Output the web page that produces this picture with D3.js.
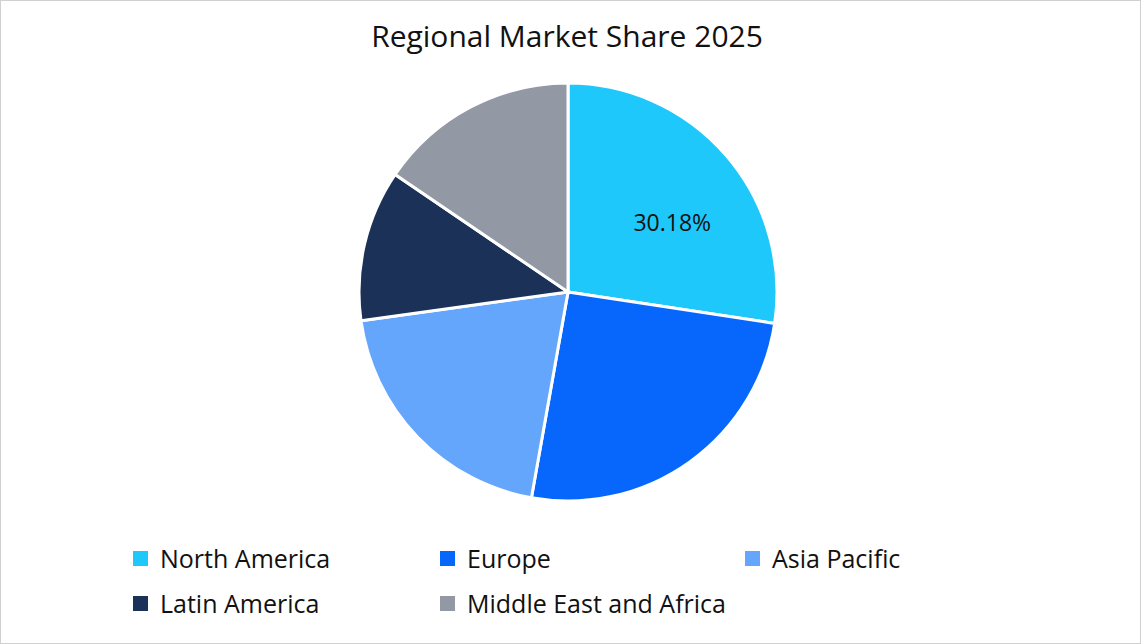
<!DOCTYPE html>
<html>
<head>
<meta charset="utf-8">
<script src="https://cdn.jsdelivr.net/npm/d3@7"></script>
<style>
  body { margin: 0; background: #fff; }
  svg { font-family: "Open Sans", "Noto Sans", sans-serif; }
</style>
</head>
<body>
<div id="chart"></div>
<script>
// chart data
var regions = ["North America", "Europe", "Asia Pacific", "Latin America", "Middle East and Africa"];
var shares = [27.4, 25.4, 20.0, 11.7, 15.5];
var sliceLabels = ["30.18%", "", "", "", ""];
var colors = ["#1ec8fb", "#0767fd", "#65a6fd", "#1b3157", "#9299a5"];

var svgWidth = 1141, svgHeight = 644;

var svg = d3.select("#chart").append("svg")
  .attr("width", svgWidth)
  .attr("height", svgHeight);

// frame
svg.append("rect")
  .attr("x", 0.5).attr("y", 0.5)
  .attr("width", svgWidth - 1).attr("height", svgHeight - 1)
  .attr("fill", "#fff").attr("stroke", "#d0d0d0");

svg.append("text")
  .attr("x", 567).attr("y", 47)
  .attr("text-anchor", "middle")
  .attr("font-size", "30px")
  .attr("fill", "#111")
  .text("Regional Market Share 2025");

var data = regions.map(function(r, i) {
  return { name: r, value: shares[i], label: sliceLabels[i], color: colors[i] };
});

var pie = d3.pie().sort(null).value(d => d.value);
var radius = 209;
var arc = d3.arc().innerRadius(0).outerRadius(radius);
var labelArc = d3.arc().innerRadius(radius * 0.62).outerRadius(radius * 0.62);

var pieGroup = svg.append("g")
  .attr("transform", "translate(568, 292)");

var arcs = pie(data);

pieGroup.selectAll("path")
  .data(arcs)
  .enter()
  .append("path")
  .attr("d", arc)
  .attr("fill", d => d.data.color)
  .attr("stroke", "#fff")
  .attr("stroke-width", 3);

// percentage label(s)
arcs.forEach(function(d) {
  if (!d.data.label) return;
  var c = labelArc.centroid(d);
  pieGroup.append("text")
    .attr("x", c[0] + 6)
    .attr("y", c[1] + 23)
    .attr("text-anchor", "middle")
    .attr("font-size", "23px")
    .attr("fill", "#111")
    .text(d.data.label);
});

// legend
var legendX = [133, 440, 745];
var legendY = [559, 604];

var legend = svg.selectAll(".legend")
  .data(data)
  .enter()
  .append("g")
  .classed("legend", true)
  .attr("transform", (d, i) => `translate(${legendX[i % 3]}, ${legendY[Math.floor(i / 3)]})`);

legend.append("rect")
  .attr("x", 0).attr("y", -8)
  .attr("width", 15).attr("height", 15)
  .attr("fill", d => d.color);

legend.append("text")
  .attr("x", 27).attr("y", 0)
  .attr("dy", "0.35em")
  .attr("font-size", "25px")
  .attr("fill", "#111")
  .text(d => d.name);
</script>
</body>
</html>
